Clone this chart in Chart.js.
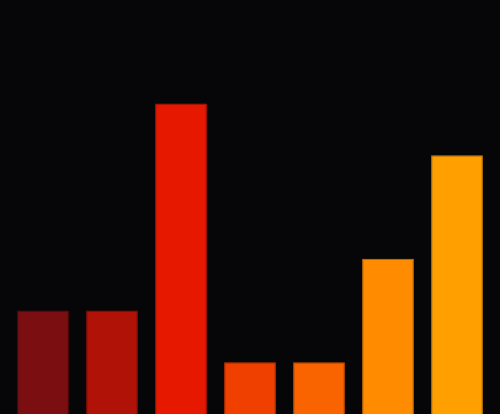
<!DOCTYPE html>
<html>
<head>
<meta charset="utf-8">
<script src="https://cdn.jsdelivr.net/npm/chart.js@4/dist/chart.umd.min.js"></script>
<style>
html,body{margin:0;padding:0;background:#060608;}
#wrap{width:500px;height:414px;position:relative;}
</style>
</head>
<body>
<div id="wrap"><canvas id="c"></canvas></div>
<script>
const categories = ["A", "B", "C", "D", "E", "F", "G"];
const values = [2, 2, 6, 1, 1, 3, 5];
const colors = ["#7a0e10", "#b01208", "#e61800", "#f04000", "#fa6400", "#ff8c00", "#ffa000"];
const borders = ["#5e0a0c", "#8e0e06", "#c01400", "#c83500", "#d05200", "#d57500", "#d58600"];

new Chart(document.getElementById('c'), {
  type: 'bar',
  data: {
    labels: categories,
    datasets: [{
      data: values,
      backgroundColor: colors,
      borderColor: borders,
      borderWidth: 1,
      barPercentage: 0.75,
      categoryPercentage: 1
    }]
  },
  options: {
    responsive: true,
    maintainAspectRatio: false,
    animation: false,
    layout: { padding: { left: 8.5, right: 8.5, top: 0, bottom: 0 } },
    plugins: { legend: { display: false }, tooltip: { enabled: false } },
    scales: {
      x: { display: false },
      y: { display: false, min: 0, max: 8 }
    }
  }
});
</script>
</body>
</html>
